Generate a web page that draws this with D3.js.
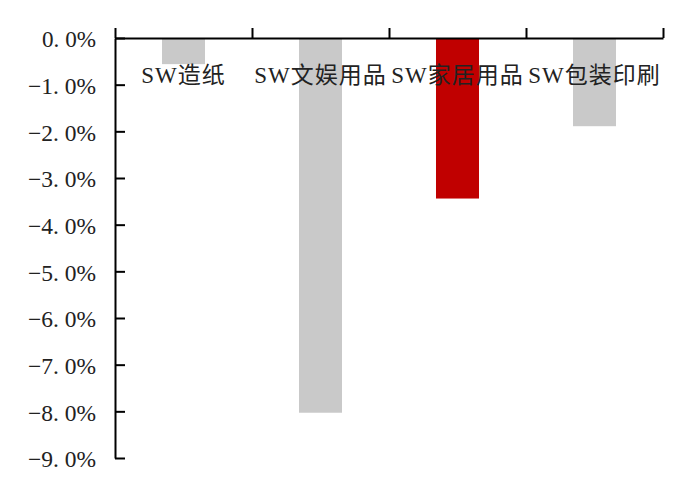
<!DOCTYPE html>
<html>
<head>
<meta charset="utf-8">
<script src="https://cdn.jsdelivr.net/npm/d3@7"></script>
<style>
  body { margin: 0; background: #fff; }
  svg { display: block; }
</style>
</head>
<body>
<div class="chart"></div>
<script>
  'use strict';

  var categories = ['SW造纸', 'SW文娱用品', 'SW家居用品', 'SW包装印刷'];
  var values     = [-0.56, -8.03, -3.44, -1.89];
  var barColors  = ['#c9c9c9', '#c9c9c9', '#c00000', '#c9c9c9'];
  var yTicks     = [0, -1, -2, -3, -4, -5, -6, -7, -8, -9];

  var width  = 700;
  var height = 495;
  var margin = {top: 38, right: 37, bottom: 37, left: 115};

  var fontStack = '"Liberation Serif", "DejaVu Serif", "Noto Sans CJK SC", serif';

  var svg = d3.select('.chart')
    .append('svg')
    .attr('width', width)
    .attr('height', height);

  var x = d3.scaleBand()
    .domain(categories)
    .range([margin.left, width - margin.right])
    .paddingInner(0.686)
    .paddingOuter(0.343);

  var y = d3.scaleLinear()
    .domain([-9, 0])
    .range([height - margin.bottom, margin.top]);

  // bars hang down from the 0% line
  svg.append('g').selectAll('rect')
    .data(values)
    .enter().append('rect')
    .attr('x', function(d, i){ return x(categories[i]); })
    .attr('y', y(0))
    .attr('width', x.bandwidth())
    .attr('height', function(d){ return y(d) - y(0); })
    .attr('fill', function(d, i){ return barColors[i]; });

  // y axis: ticks point into the plot, labels on the left
  var fmt = d3.format('.1f');
  var yAxis = d3.axisLeft(y)
    .tickValues(yTicks)
    .tickSizeInner(-10)
    .tickSizeOuter(0)
    .tickPadding(19)
    .tickFormat(function(d){ return fmt(d).replace('.', '. ') + '%'; });

  var gy = svg.append('g')
    .attr('transform', 'translate(' + margin.left + ',0)')
    .call(yAxis);
  gy.select('.domain').attr('stroke', '#000').attr('stroke-width', 2);
  gy.selectAll('.tick line').attr('stroke', '#000').attr('stroke-width', 2);
  gy.selectAll('.tick text')
    .attr('fill', '#222')
    .attr('dy', '0.38em')
    .attr('textLength', function(d){ return d < 0 ? 68 : 54; })
    .attr('lengthAdjust', 'spacingAndGlyphs')
    .style('font-family', fontStack)
    .style('font-size', '23px');

  // category axis along the top, ticks at band edges
  var edges = d3.scaleLinear()
    .domain([0, categories.length])
    .range(x.range());

  var xAxis = d3.axisTop(edges)
    .tickValues(d3.range(categories.length + 1))
    .tickSize(10)
    .tickSizeOuter(0)
    .tickFormat('');

  var gx = svg.append('g')
    .attr('transform', 'translate(0,' + y(0) + ')')
    .call(xAxis);
  gx.select('.domain').attr('stroke', '#000').attr('stroke-width', 2);
  gx.selectAll('.tick line').attr('stroke', '#000').attr('stroke-width', 2);

  // category labels sit inside the plot, just under the 0% line
  svg.append('g').selectAll('text')
    .data(categories)
    .enter().append('text')
    .attr('x', function(d){ return x(d) + x.bandwidth() / 2; })
    .attr('y', y(0) + 45)
    .attr('text-anchor', 'middle')
    .attr('fill', '#222')
    .style('font-family', fontStack)
    .style('font-size', '23px')
    .style('letter-spacing', '1px')
    .text(function(d){ return d; });
</script>
</body>
</html>
